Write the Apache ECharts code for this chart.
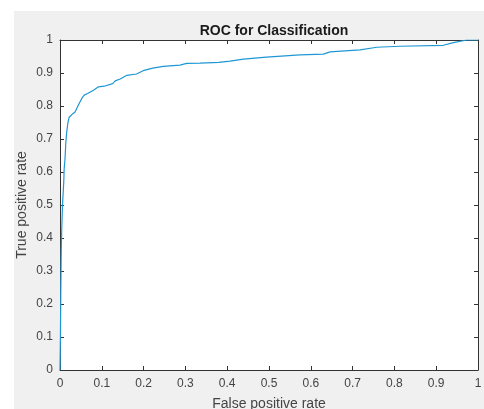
<!DOCTYPE html>
<html>
<head>
<meta charset="utf-8">
<script src="https://cdn.jsdelivr.net/npm/echarts@6/dist/echarts.min.js"></script>
<style>
html,body{margin:0;padding:0;background:#fff;}
#wrap{position:relative;width:484px;height:409px;overflow:hidden;}
#bg{position:absolute;left:14px;top:11px;width:470px;height:398px;background:#f0f0f0;}
#chart{position:absolute;left:0;top:0;width:484px;height:409px;}
</style>
</head>
<body>
<div id="wrap"><div id="bg"></div><div id="chart"></div></div>
<script>
const titleText = "ROC for Classification";
const xLabel = "False positive rate";
const yLabel = "True positive rate";
const fpr = [0, 0.001, 0.002, 0.003, 0.004, 0.006, 0.009, 0.010, 0.012, 0.014, 0.016, 0.019, 0.022, 0.030, 0.036, 0.044, 0.052, 0.058, 0.066, 0.080, 0.092, 0.106, 0.110, 0.126, 0.132, 0.144, 0.160, 0.183, 0.199, 0.222, 0.247, 0.287, 0.303, 0.335, 0.380, 0.407, 0.439, 0.494, 0.574, 0.630, 0.646, 0.718, 0.758, 0.813, 0.917, 0.941, 0.973, 1.0];
const tpr = [0, 0.10, 0.25, 0.36, 0.42, 0.50, 0.57, 0.61, 0.64, 0.69, 0.72, 0.75, 0.766, 0.776, 0.782, 0.803, 0.823, 0.833, 0.838, 0.848, 0.858, 0.860, 0.866, 0.868, 0.876, 0.882, 0.893, 0.897, 0.907, 0.915, 0.920, 0.924, 0.929, 0.930, 0.932, 0.936, 0.942, 0.948, 0.955, 0.957, 0.964, 0.970, 0.978, 0.981, 0.984, 0.992, 1.0, 1.0];

const data = fpr.map((x, i) => [x, tpr[i]]);
const axisColor = '#333';
const labelColor = '#444';
const font = 'Arial, "Liberation Sans", Helvetica, sans-serif';

const chart = echarts.init(document.getElementById('chart'));
const base = {
  type: 'value', min: 0, max: 1, interval: 0.1,
  axisLine: {show: true, onZero: false, lineStyle: {color: axisColor, width: 1}},
  axisTick: {show: true, inside: true, length: 4, lineStyle: {color: axisColor}},
  splitLine: {show: false}
};
chart.setOption({
  animation: false,
  textStyle: {fontFamily: font},
  title: {
    text: titleText, left: 269, top: 19, textAlign: 'center',
    textStyle: {fontSize: 14, fontWeight: 'bold', color: '#1a1a1a', fontFamily: font}
  },
  grid: {left: 60, top: 40, right: 6, bottom: 39, show: true, backgroundColor: '#fff', borderWidth: 0,
         containLabel: false, outerBoundsMode: 'none'},
  xAxis: [
    Object.assign({}, base, {
      position: 'bottom',
      name: xLabel, nameLocation: 'middle', nameGap: 27, nameMoveOverlap: false,
      nameTextStyle: {fontSize: 14, color: labelColor, fontFamily: font},
      axisLabel: {fontSize: 12, color: labelColor, margin: 8, fontFamily: font}
    }),
    Object.assign({}, base, {position: 'top', axisLabel: {show: false}})
  ],
  yAxis: [
    Object.assign({}, base, {
      position: 'left',
      name: yLabel, nameLocation: 'middle', nameGap: 31, nameMoveOverlap: false,
      nameTextStyle: {fontSize: 14, color: labelColor, fontFamily: font},
      axisLabel: {fontSize: 12, color: labelColor, margin: 7, fontFamily: font}
    }),
    Object.assign({}, base, {position: 'right', axisLabel: {show: false}})
  ],
  series: [{
    type: 'line', data: data, showSymbol: false, symbol: 'none',
    lineStyle: {color: '#1f97d4', width: 1.2}
  }]
});
</script>
</body>
</html>
